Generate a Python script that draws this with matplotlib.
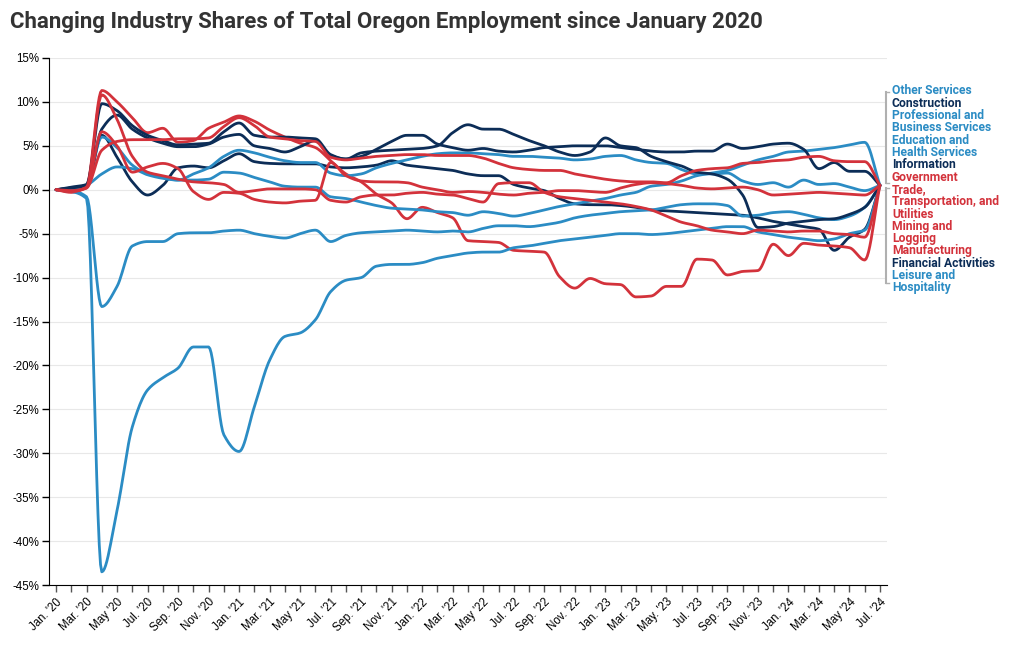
import numpy as np
import matplotlib.pyplot as plt
from matplotlib.lines import Line2D

# months Jan 2020 .. Jul 2024 (index 0..54)
n_months = 55
tick_labels = ["Jan. '20", "Mar. '20", "May '20", "Jul. '20", "Sep. '20", "Nov. '20",
               "Jan. '21", "Mar. '21", "May '21", "Jul. '21", "Sep. '21", "Nov. '21",
               "Jan. '22", "Mar. '22", "May '22", "Jul. '22", "Sep. '22", "Nov. '22",
               "Jan. '23", "Mar. '23", "May. '23", "Jul. '23", "Sep. '23", "Nov. '23",
               "Jan. '24", "Mar. '24", "May '24", "Jul. '24"]

# percent change in industry share since Jan 2020
leisure = [0, -0.2, -1.0, -43.5, -36.5, -27.0, -22.8, -21.4, -20.3, -17.9, -17.9, -27.9, -29.8,
           -24.7, -19.4, -16.7, -16.3, -14.8, -11.6, -10.3, -10.0, -8.7, -8.5, -8.5, -8.3, -7.8,
           -7.5, -7.2, -7.1, -7.1, -6.6, -6.4, -6.1, -5.8, -5.6, -5.4, -5.2, -5.0, -5.0, -5.1,
           -5.0, -4.8, -4.6, -4.4, -4.2, -4.2, -4.8, -5.1, -5.4, -5.6, -5.8, -5.6, -5.0, -4.6, 0.5]
other_services = [0, -0.1, -0.8, -13.3, -11.0, -6.4, -5.9, -5.9, -5.0, -4.9, -4.9, -4.7, -4.6,
                  -5.0, -5.3, -5.5, -5.0, -4.6, -5.9, -5.2, -4.9, -4.8, -4.7, -4.6, -4.7, -4.8,
                  -4.7, -4.8, -4.4, -4.1, -4.1, -4.2, -4.0, -3.7, -3.2, -2.9, -2.7, -2.5, -2.4,
                  -2.3, -2.0, -1.7, -1.6, -1.6, -1.8, -3.0, -2.9, -2.6, -2.5, -2.8, -3.2, -3.4,
                  -3.0, -2.0, 0.5]
education_health = [0, 0.0, 0.5, 1.8, 2.6, 2.4, 1.7, 1.3, 1.1, 1.8, 2.5, 3.8, 4.5,
                    4.2, 3.7, 3.3, 3.1, 3.1, 1.9, 1.6, 1.8, 2.5, 3.0, 3.4, 3.8, 4.1,
                    4.2, 4.2, 4.1, 4.0, 3.8, 3.8, 3.7, 3.6, 3.4, 3.5, 3.8, 3.9, 3.4,
                    3.1, 3.0, 2.3, 1.8, 1.8, 1.9, 1.0, 0.6, 0.8, 0.3, 1.1, 0.6, 0.7,
                    0.3, -0.1, 0.5]
professional = [0, 0.1, 0.4, 6.0, 4.8, 2.8, 1.8, 1.4, 1.1, 1.1, 1.2, 2.0, 1.9,
                1.4, 0.9, 0.4, 0.3, 0.3, -0.8, -1.0, -1.4, -1.8, -2.1, -2.2, -2.3, -2.5,
                -2.6, -2.9, -2.5, -2.7, -3.0, -2.7, -2.3, -1.9, -1.6, -1.3, -1.0, -0.6, -0.3,
                0.4, 0.6, 1.0, 1.6, 1.9, 2.2, 2.8, 3.4, 3.8, 4.3, 4.4, 4.6, 4.8,
                5.1, 5.4, 0.5]
construction = [0, 0.3, 0.6, 9.8, 9.0, 7.3, 6.2, 5.6, 5.1, 5.2, 5.3, 6.6, 7.6,
                6.2, 6.0, 6.0, 5.9, 5.8, 4.0, 3.5, 3.8, 4.6, 5.5, 6.2, 6.2, 5.2,
                4.8, 4.5, 4.7, 4.4, 4.3, 4.5, 4.8, 4.9, 5.0, 5.0, 5.0, 4.8, 4.6,
                4.4, 4.3, 4.3, 4.4, 4.4, 5.2, 4.7, 4.9, 5.2, 5.3, 4.6, 2.4, 3.1,
                2.1, 2.1, 0.5]
information = [0, 0.2, 0.5, 6.9, 8.5, 6.9, 5.9, 5.3, 4.9, 4.9, 5.2, 6.0, 6.3,
               5.0, 4.7, 4.3, 4.9, 5.6, 3.9, 3.5, 4.2, 4.4, 4.5, 4.6, 4.7, 5.0,
               6.5, 7.4, 6.9, 6.9, 6.3, 5.6, 5.0, 4.3, 3.9, 4.3, 5.9, 5.0, 4.8,
               3.8, 3.2, 2.7, 2.0, 1.8, 1.2, -0.6, -4.3, -4.2, -3.8, -3.6, -3.4, -3.3,
               -2.8, -2.0, 0.5]
financial = [0, 0.2, 0.5, 6.2, 3.7, 0.9, -0.6, 0.5, 2.5, 2.7, 2.5, 3.3, 4.1,
             3.2, 3.0, 2.95, 2.95, 2.95, 2.6, 2.5, 2.6, 2.8, 3.3, 2.8, 2.6, 2.4,
             2.2, 1.8, 1.6, 1.6, 0.6, 0.2, -0.1, -1.0, -1.6, -1.7, -1.7, -1.8, -2.0,
             -2.3, -2.4, -2.5, -2.6, -2.7, -2.8, -2.9, -3.2, -3.6, -3.9, -4.2, -4.5, -6.9,
             -5.4, -4.5, 0.5]
government = [0, -0.1, 0.2, 4.5, 5.5, 5.7, 5.7, 5.7, 5.8, 5.8, 5.9, 7.2, 8.2,
              7.3, 6.0, 5.8, 5.6, 5.5, 3.7, 3.4, 3.6, 3.8, 3.9, 4.0, 4.0, 3.9,
              3.9, 3.9, 3.6, 3.0, 2.5, 2.3, 2.2, 2.2, 1.8, 1.5, 1.2, 1.0, 0.9,
              0.9, 0.8, 1.6, 2.2, 2.4, 2.5, 3.0, 3.1, 3.3, 3.4, 3.7, 3.8, 3.3,
              3.2, 3.2, 0.5]
trade = [0, -0.2, 0.3, 10.8, 8.0, 3.8, 2.0, 1.6, 1.2, 0.9, 0.8, 0.6, -0.3,
         -0.1, 0.1, 0.1, 0.1, 0.0, -1.2, -1.4, -0.8, -0.6, -0.6, -0.4, -0.3, -0.5,
         -0.6, -1.0, -1.4, 0.7, 0.8, 0.8, -0.3, -0.8, -1.0, -1.2, -1.4, -1.6, -1.9,
         -2.3, -3.0, -3.7, -4.1, -4.6, -4.8, -5.0, -4.6, -4.7, -4.8, -4.7, -4.7, -5.0,
         -5.1, -5.4, 0.5]
mining = [0, -0.3, 0.4, 11.3, 10.0, 8.2, 6.5, 7.0, 5.4, 5.6, 7.0, 7.7, 8.4,
          7.8, 6.8, 6.0, 5.3, 4.8, 3.3, 1.8, 0.9, -0.5, -1.5, -3.3, -2.0, -2.6,
          -3.2, -5.8, -5.9, -6.0, -6.9, -7.0, -7.1, -9.9, -11.2, -10.1, -10.7, -10.8, -12.2,
          -12.1, -11.0, -11.0, -7.9, -8.0, -9.7, -9.3, -9.2, -6.2, -7.5, -6.1, -6.3, -6.4,
          -6.6, -8.0, 0.5]
manufacturing = [0, -0.2, 0.2, 6.6, 5.0, 2.0, 2.6, 3.0, 2.4, -0.2, -1.1, -0.3, -0.4,
                 -1.1, -1.4, -1.5, -1.3, -1.2, 3.1, 1.6, 1.0, 0.9, 0.9, 0.8, 0.3, 0.0,
                 -0.3, -0.2, -0.3, -0.5, -0.6, -0.4, -0.3, -0.1, -0.1, -0.2, -0.3, 0.2, 0.6,
                 0.8, 0.7, 0.5, 0.2, 0.1, 0.2, 0.3, 0.0, -0.6, -0.5, -0.4, -0.3, -0.4,
                 -0.5, -0.6, 0.5]

BLUE = '#2b8cc4'
NAVY = '#0c2d57'
RED = '#d3323b'

series = [
    ("Other Services", other_services, BLUE),
    ("Construction", construction, NAVY),
    ("Professional and\nBusiness Services", professional, BLUE),
    ("Education and\nHealth Services", education_health, BLUE),
    ("Information", information, NAVY),
    ("Government", government, RED),
    ("Trade,\nTransportation, and\nUtilities", trade, RED),
    ("Mining and\nLogging", mining, RED),
    ("Manufacturing", manufacturing, RED),
    ("Financial Activities", financial, NAVY),
    ("Leisure and\nHospitality", leisure, BLUE),
]


def monotone_curve(x, y, steps=12):
    """monotone cubic (Fritsch-Carlson) like d3.curveMonotoneX"""
    x = np.asarray(x, float)
    y = np.asarray(y, float)
    h = np.diff(x)
    d = np.diff(y) / h
    m = np.zeros_like(y)
    m[0], m[-1] = d[0], d[-1]
    for i in range(1, len(y) - 1):
        if d[i - 1] * d[i] <= 0:
            m[i] = 0
        else:
            m[i] = 3 * (h[i - 1] + h[i]) / ((2 * h[i] + h[i - 1]) / d[i - 1] + (h[i] + 2 * h[i - 1]) / d[i])
    xs, ys = [], []
    for i in range(len(x) - 1):
        t = np.linspace(0, 1, steps, endpoint=False)
        h00 = 2 * t**3 - 3 * t**2 + 1
        h10 = t**3 - 2 * t**2 + t
        h01 = -2 * t**3 + 3 * t**2
        h11 = t**3 - t**2
        xs.append(x[i] + t * h[i])
        ys.append(h00 * y[i] + h10 * h[i] * m[i] + h01 * y[i + 1] + h11 * h[i] * m[i + 1])
    xs.append([x[-1]])
    ys.append([y[-1]])
    return np.concatenate(xs), np.concatenate(ys)


plt.rcParams['font.family'] = ['Liberation Sans', 'DejaVu Sans']

W, H = 1020, 650
fig = plt.figure(figsize=(W / 100, H / 100), dpi=100)
ax = fig.add_axes([49 / W, 1 - 585 / H, (887 - 49) / W, (585 - 58) / H])

x = np.arange(n_months)
order = [9, 7, 10, 0, 2, 3, 1, 4, 5, 6, 8]
for i in order:
    name, vals, col = series[i]
    xs, ys = monotone_curve(x, vals)
    ax.plot(xs, ys, color=col, lw=2.0, solid_capstyle='round', solid_joinstyle='round')

ax.set_xlim(-0.46, 54.46)
ax.set_ylim(-45, 15)
ax.set_yticks(np.arange(-45, 16, 5))
ax.set_yticklabels(['%d%%' % v for v in np.arange(-45, 16, 5)], fontsize=8.3)
ax.set_xticks(x, minor=True)
ax.set_xticks(np.arange(0, n_months, 2))
ax.set_xticklabels(tick_labels, rotation=45, ha='right', va='top',
                   rotation_mode='anchor', fontsize=8.3)
ax.tick_params(axis='x', which='both', length=5, width=1, color='#555555', pad=3)
ax.tick_params(axis='y', length=5, width=1, color='black', pad=2)
ax.grid(axis='y', color='#e8e8e8', lw=0.8)
ax.set_axisbelow(True)
for s in ['top', 'right']:
    ax.spines[s].set_visible(False)
ax.spines['left'].set_color('black')
ax.spines['bottom'].set_color('black')

fig.text(10 / W, 1 - 22 / H, "Changing Industry Shares of Total Oregon Employment since January 2020",
         fontsize=16, fontweight='bold', color='#333333', family='Roboto', va='center')

# right-hand labels, one text line at a time
line_h = 12.3
k = 0
for name, vals, col in series:
    for part in name.split('\n'):
        fig.text(892 / W, 1 - (91 + line_h * k) / H, part, color=col, fontsize=8.7,
                 fontweight='bold', family='Roboto', va='center')
        k += 1

# label brackets
for y0, y1 in [(92, 183), (188, 283)]:
    fig.add_artist(Line2D([886 / W, 886 / W], [1 - y0 / H, 1 - y1 / H], color='#b0b0b0', lw=1.5))
    for yy in (y0, y1):
        fig.add_artist(Line2D([886 / W, 889 / W], [1 - yy / H, 1 - yy / H], color='#b0b0b0', lw=1))

fig.savefig('out.png', dpi=100)
